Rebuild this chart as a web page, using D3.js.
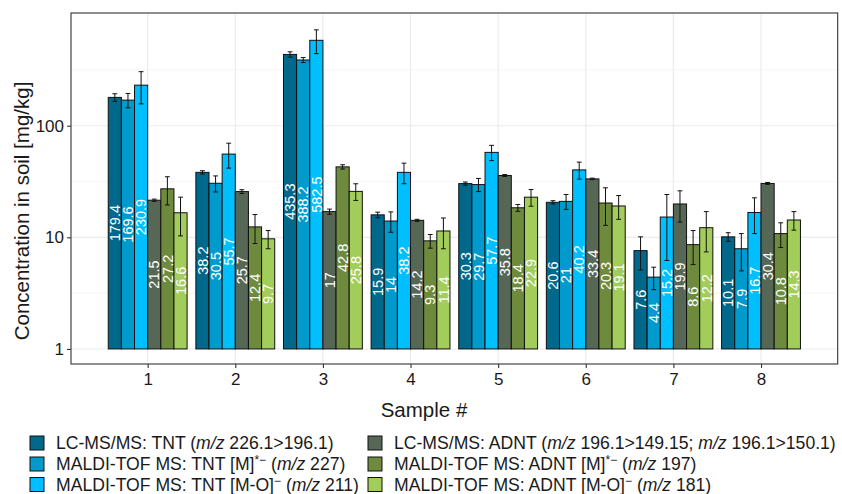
<!DOCTYPE html>
<html>
<head>
<meta charset="utf-8">
<script src="https://cdn.jsdelivr.net/npm/d3@7"></script>
<style>
  body { margin: 0; background: #fff; }
  svg text { font-family: "Liberation Sans", Arial, sans-serif; }
</style>
</head>
<body>
<div class="chart"></div>
<script>
var svgWidth = 842;
var svgHeight = 494;

// data
var samples = ["1", "2", "3", "4", "5", "6", "7", "8"];
var seriesKeys = ["tntLc", "tntM", "tntMO", "adntLc", "adntM", "adntMO"];
var tntLc  = [179.4, 38.2, 435.3, 15.9, 30.3, 20.6, 7.6, 10.1];
var tntM   = [169.6, 30.5, 388.2, 14, 29.7, 21, 4.4, 7.9];
var tntMO  = [230.9, 55.7, 582.5, 38.2, 57.7, 40.2, 15.2, 16.7];
var adntLc = [21.5, 25.7, 17, 14.2, 35.8, 33.4, 19.9, 30.4];
var adntM  = [27.2, 12.4, 42.8, 9.3, 18.4, 20.3, 8.6, 10.8];
var adntMO = [16.6, 9.7, 25.8, 11.4, 22.9, 19.1, 12.2, 14.3];
// standard deviations (error bars)
var tntLcSd  = [14, 1.3, 24, 0.9, 1, 0.7, 2.5, 0.9];
var tntMSd   = [25, 5, 20, 2.9, 4, 3.2, 1, 2.9];
var tntMOSd  = [74, 14, 140, 8, 9, 7, 9, 5.9];
var adntLcSd = [0.5, 1, 0.9, 0.3, 0.7, 0.5, 6.2, 0.6];
var adntMSd  = [7.7, 3.6, 1.9, 1.3, 1.3, 7.5, 2.9, 2.7];
var adntMOSd = [6.3, 1.8, 4.4, 3.5, 3.9, 4.6, 4.8, 2.7];
var yTicks = [1, 10, 100];
var yMinor = [Math.sqrt(10), Math.sqrt(1000), Math.sqrt(100000)];
var legendLabels = [
  "LC-MS/MS: TNT (<i>m/z</i> 226.1>196.1)",
  "MALDI-TOF MS: TNT [M]<sup>*−</sup> (<i>m/z</i> 227)",
  "MALDI-TOF MS: TNT [M-O]<sup>−</sup> (<i>m/z</i> 211)",
  "LC-MS/MS: ADNT (<i>m/z</i> 196.1>149.15; <i>m/z</i> 196.1>150.1)",
  "MALDI-TOF MS: ADNT [M]<sup>*−</sup> (<i>m/z</i> 197)",
  "MALDI-TOF MS: ADNT [M-O]<sup>−</sup> (<i>m/z</i> 181)"
];
var colors = ["#00688b", "#009acd", "#00bfff", "#566756", "#6e8b3d", "#a2cd5a"];

var values = [tntLc, tntM, tntMO, adntLc, adntM, adntMO];
var sds = [tntLcSd, tntMSd, tntMOSd, adntLcSd, adntMSd, adntMOSd];

var panel = { left: 71, right: 837.7, top: 13, bottom: 364 };

var svg = d3.select(".chart")
  .append("svg")
  .attr("width", svgWidth)
  .attr("height", svgHeight);

var xScale = d3.scalePoint()
  .domain(samples)
  .range([panel.left, panel.right])
  .padding(0.875);

var groupWidth = xScale.step() * 0.9;
var xInner = d3.scaleBand()
  .domain(seriesKeys)
  .range([-groupWidth / 2, groupWidth / 2]);

var yScale = d3.scaleLog()
  .domain([Math.pow(10, -0.135), Math.pow(10, 3.01)])
  .range([panel.bottom, panel.top]);

var colorScale = d3.scaleOrdinal().domain(seriesKeys).range(colors);

// grid
var grid = svg.append("g");
grid.selectAll(".minor")
  .data(yMinor)
  .enter().append("line")
  .attr("x1", panel.left).attr("x2", panel.right)
  .attr("y1", function(d) { return yScale(d); })
  .attr("y2", function(d) { return yScale(d); })
  .style("stroke", "#f0f0f0").style("stroke-width", 0.6);
grid.selectAll(".major")
  .data(yTicks)
  .enter().append("line")
  .attr("x1", panel.left).attr("x2", panel.right)
  .attr("y1", function(d) { return yScale(d); })
  .attr("y2", function(d) { return yScale(d); })
  .style("stroke", "#ebebeb").style("stroke-width", 1.1);
grid.selectAll(".vmajor")
  .data(samples)
  .enter().append("line")
  .attr("y1", panel.top).attr("y2", panel.bottom)
  .attr("x1", function(d) { return xScale(d); })
  .attr("x2", function(d) { return xScale(d); })
  .style("stroke", "#ebebeb").style("stroke-width", 1.1);

// flatten data
var rows = [];
samples.forEach(function(s, i) {
  seriesKeys.forEach(function(k, j) {
    rows.push({ sample: s, key: k, value: values[j][i], sd: sds[j][i] });
  });
});

var chart = svg.append("g");

chart.selectAll("rect")
  .data(rows)
  .enter().append("rect")
  .attr("x", function(d) { return xScale(d.sample) + xInner(d.key); })
  .attr("width", xInner.bandwidth())
  .attr("y", function(d) { return yScale(d.value); })
  .attr("height", function(d) { return yScale(1) - yScale(d.value); })
  .style("fill", function(d) { return colorScale(d.key); })
  .style("stroke", "#111")
  .style("stroke-width", 1);

// error bars
var cap = 2.4;
var errs = chart.selectAll(".err")
  .data(rows)
  .enter().append("g")
  .attr("transform", function(d) {
    return "translate(" + (xScale(d.sample) + xInner(d.key) + xInner.bandwidth() / 2) + ",0)";
  })
  .style("stroke", "#111")
  .style("stroke-width", 1);
errs.append("line")
  .attr("y1", function(d) { return yScale(d.value + d.sd); })
  .attr("y2", function(d) { return yScale(d.value - d.sd); });
errs.append("line")
  .attr("x1", -cap).attr("x2", cap)
  .attr("y1", function(d) { return yScale(d.value + d.sd); })
  .attr("y2", function(d) { return yScale(d.value + d.sd); });
errs.append("line")
  .attr("x1", -cap).attr("x2", cap)
  .attr("y1", function(d) { return yScale(d.value - d.sd); })
  .attr("y2", function(d) { return yScale(d.value - d.sd); });

// value labels at the (log) middle of each bar
chart.selectAll(".lbl")
  .data(rows)
  .enter().append("text")
  .attr("transform", function(d) {
    var x = xScale(d.sample) + xInner(d.key) + xInner.bandwidth() / 2;
    var y = yScale(Math.sqrt(d.value));
    return "translate(" + x + "," + y + ") rotate(-90)";
  })
  .attr("text-anchor", "middle")
  .attr("dy", "0.36em")
  .style("fill", "#fff")
  .style("font-size", "14.5px")
  .text(function(d) { return d.value; });

// panel border
svg.append("rect")
  .attr("x", panel.left).attr("y", panel.top)
  .attr("width", panel.right - panel.left)
  .attr("height", panel.bottom - panel.top)
  .style("fill", "none")
  .style("stroke", "#333")
  .style("stroke-width", 1.1);

// axes
var leftAxis = d3.axisLeft(yScale)
  .tickValues(yTicks)
  .tickFormat(d3.format("d"))
  .tickSize(4)
  .tickPadding(3);
var gy = svg.append("g")
  .attr("transform", "translate(" + panel.left + ",0)")
  .call(leftAxis);

var bottomAxis = d3.axisBottom(xScale)
  .tickSize(4)
  .tickPadding(5);
var gx = svg.append("g")
  .attr("transform", "translate(0," + panel.bottom + ")")
  .call(bottomAxis);

[gx, gy].forEach(function(g) {
  g.select(".domain").remove();
  g.selectAll(".tick line").style("stroke", "#333").style("stroke-width", 1.1);
  g.selectAll(".tick text")
    .style("font-size", "17px")
    .style("fill", "#1a1a1a")
    .style("font-family", "'Liberation Sans', Arial, sans-serif");
});

// axis titles
svg.append("text")
  .attr("transform", "translate(29,211) rotate(-90)")
  .attr("text-anchor", "middle")
  .style("font-size", "20.5px")
  .style("fill", "#1a1a1a")
  .text("Concentration in soil [mg/kg]");

svg.append("text")
  .attr("x", 424)
  .attr("y", 417)
  .attr("text-anchor", "middle")
  .style("font-size", "20.5px")
  .style("fill", "#1a1a1a")
  .text("Sample #");

// legend
var legendCols = [30, 368];
var legendRows = [443, 464, 484.5];
var legend = svg.selectAll(".legend")
  .data(seriesKeys)
  .enter().append("g")
  .attr("transform", function(d, i) {
    return "translate(" + legendCols[Math.floor(i / 3)] + "," + legendRows[i % 3] + ")";
  });

legend.append("rect")
  .attr("x", 0).attr("y", -7)
  .attr("width", 14).attr("height", 14)
  .style("fill", function(d) { return colorScale(d); })
  .style("stroke", "#111")
  .style("stroke-width", 1);

legend.append("text")
  .attr("x", 26)
  .attr("y", 6)
  .style("font-size", "17.6px")
  .style("fill", "#1a1a1a")
  .each(function(d, i) {
    var el = d3.select(this);
    var parts = legendLabels[i].split(/(<i>.*?<\/i>|<sup>.*?<\/sup>)/);
    var shifted = false;
    parts.forEach(function(p) {
      if (!p) return;
      if (p.indexOf("<i>") === 0) {
        el.append("tspan").attr("dy", shifted ? 6 : null)
          .style("font-style", "italic").text(p.replace(/<\/?i>/g, ""));
        shifted = false;
      } else if (p.indexOf("<sup>") === 0) {
        el.append("tspan").attr("dy", -6).style("font-size", "12px")
          .text(p.replace(/<\/?sup>/g, ""));
        shifted = true;
      } else {
        el.append("tspan").attr("dy", shifted ? 6 : null).text(p);
        shifted = false;
      }
    });
  });
</script>
</body>
</html>
